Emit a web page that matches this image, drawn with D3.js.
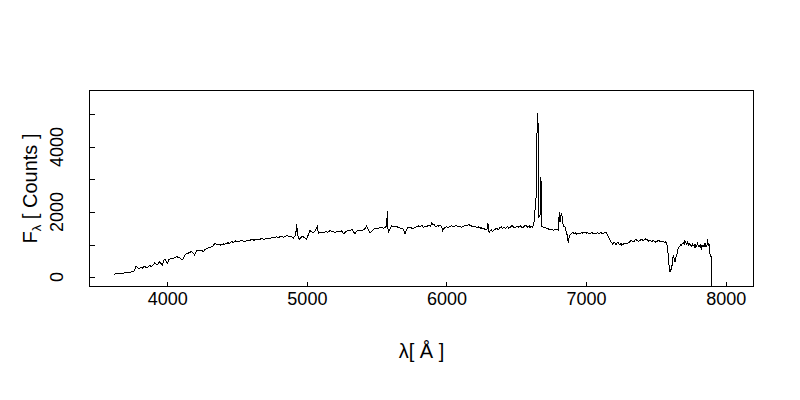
<!DOCTYPE html>
<html><head><meta charset="utf-8">
<script src="https://cdn.jsdelivr.net/npm/d3@7"></script>
<style>body{margin:0;background:#fff}svg{display:block}</style>
</head><body><svg id="c" width="800" height="400"></svg>
<script>
// ---- data (wavelength in Å, flux in counts) ----
const wavelength = [
3620,3635,3650,3665,3680,3695,3710,3725,3740,3752,
3765,3776,3785,3795,3805,3815,3825,3835,3845,3860,
3875,3885,3900,3910,3920,3930,3945,3955,3965,3975,
3985,3995,4002,4010,4025,4040,4055,4070,4085,4095,
4105,4115,4130,4145,4160,4175,4185,4195,4205,4215,
4230,4245,4258,4270,4285,4300,4315,4330,4340,4355,
4370,4385,4400,4410,4420,4428,4435,4443,4450,4458,
4465,4473,4480,4490,4500,4510,4520,4530,4540,4550,
4560,4570,4580,4590,4600,4610,4620,4630,4640,4650,
4660,4670,4680,4690,4700,4710,4720,4730,4740,4750,
4760,4772,4784,4792,4800,4810,4820,4830,4840,4850,
4860,4870,4879,4890,4903,4920,4927,4934,4946,4960,
4974,4986,4998,5010,5022,5034,5046,5060,5075,5082,
5095,5117,5135,5150,5165,5185,5201,5220,5237,5250,
5261,5280,5297,5310,5321,5334,5345,5355,5368,5385,
5404,5416,5428,5440,5452,5470,5488,5505,5520,5536,
5552,5567,5572,5576,5580,5586,5597,5607,5625,5643,
5660,5675,5690,5703,5714,5726,5745,5762,5780,5798,
5815,5825,5835,5845,5858,5866,5875,5885,5894,5905,
5912,5918,5926,5935,5944,5953,5960,5965,5973,5979,
5985,5993,6001,6010,6020,6028,6037,6046,6055,6064,
6073,6082,6090,6100,6109,6117,6125,6133,6140,6148,
6156,6165,6175,6184,6192,6200,6210,6218,6225,6232,
6240,6249,6258,6267,6276,6283,6290,6297,6300,6306,
6313,6320,6328,6335,6341,6347,6356,6365,6374,6383,
6392,6400,6408,6415,6423,6431,6438,6445,6453,6460,
6469,6478,6486,6495,6503,6510,6518,6526,6533,6540,
6548,6555,6565,6574,6580,6586,6592,6598,6604,6610,
6616,6622,6628,6634,6641,6646,6650,6653,6655,6657,
6662,6670,6675,6679,6684,6700,6718,6735,6750,6765,
6785,6801,6808,6813,6818,6825,6832,6840,6849,6861,
6867,6872,6878,6885,6895,6902,6908,6914,6920,6926,
6932,6941,6950,6959,6968,6976,6985,6994,7004,7012,
7020,7027,7035,7043,7051,7058,7065,7072,7080,7090,
7099,7107,7115,7125,7135,7141,7147,7160,7171,7177,
7183,7189,7195,7201,7207,7213,7220,7225,7231,7237,
7243,7249,7255,7262,7270,7280,7291,7300,7310,7318,
7326,7335,7345,7353,7362,7372,7385,7397,7410,7416,
7422,7428,7434,7442,7450,7460,7470,7480,7490,7498,
7506,7515,7525,7533,7541,7550,7560,7568,7577,7583,
7589,7595,7601,7607,7613,7619,7625,7631,7637,7643,
7649,7660,7666,7672,7678,7684,7690,7696,7702,7708,
7714,7720,7726,7732,7738,7744,7750,7756,7762,7768,
7774,7780,7786,7792,7798,7804,7810,7816,7822,7828,
7834,7840,7846,7852,7857,7862,7867,7871,7874,7877,
7880,7883,7888,7893,7898,7899,8020
];
const flux = [
85,100,95,115,110,125,130,140,150,180,
185,330,300,250,285,300,265,330,305,300,
350,320,380,440,400,390,470,420,370,520,
545,450,410,540,560,555,600,625,590,575,
525,560,700,720,760,780,740,680,760,830,
810,820,780,850,880,900,930,960,1040,990,
1000,980,1020,1000,1050,1035,1060,1030,1050,1075,
1090,1060,1080,1110,1100,1085,1110,1130,1120,1095,
1100,1135,1140,1120,1150,1165,1130,1150,1160,1140,
1150,1175,1180,1160,1170,1195,1200,1175,1190,1215,
1220,1205,1240,1210,1220,1245,1250,1225,1240,1260,
1270,1250,1262,1240,1190,1300,1620,1290,1160,1230,
1240,1200,1160,1300,1425,1390,1365,1420,1550,1345,
1380,1365,1400,1380,1425,1400,1365,1410,1395,1420,
1325,1400,1445,1430,1470,1400,1315,1400,1445,1420,
1445,1490,1580,1450,1365,1430,1500,1480,1520,1530,
1500,1550,1560,2030,1500,1395,1500,1570,1540,1550,
1520,1500,1470,1325,1450,1530,1510,1500,1540,1570,
1560,1580,1530,1555,1550,1575,1600,1560,1670,1600,
1620,1570,1545,1590,1565,1600,1580,1560,1425,1480,
1500,1530,1550,1525,1540,1565,1570,1545,1550,1585,
1580,1555,1560,1540,1530,1555,1560,1600,1590,1570,
1620,1600,1580,1560,1550,1565,1540,1510,1520,1545,
1500,1520,1480,1500,1445,1475,1470,1650,1430,1365,
1420,1450,1400,1420,1460,1445,1500,1480,1450,1520,
1540,1490,1530,1520,1490,1530,1560,1500,1525,1540,
1580,1550,1510,1520,1555,1560,1530,1550,1575,1530,
1500,1560,1590,1570,1530,1540,1575,1500,1545,1560,
1530,1600,1700,2060,2370,3500,5055,4700,4770,4625,
1855,1900,3085,2830,1550,1520,1500,1470,1460,1445,
1450,1445,2010,1700,1855,1980,1650,1560,1550,1345,
1250,1035,1200,1290,1330,1380,1365,1340,1340,1370,
1315,1350,1350,1330,1375,1350,1360,1385,1345,1360,
1320,1340,1350,1370,1325,1355,1340,1320,1360,1345,
1345,1370,1330,1350,1365,1380,1345,1250,1140,1090,
1060,1000,1035,1080,1055,1000,1020,1070,1055,1010,
985,1040,985,1000,1020,1040,1015,1050,1060,1120,
1115,1080,1090,1150,1140,1100,1120,1160,1115,1150,
1140,1180,1160,1120,1100,1130,1085,1120,1100,1070,
1085,1120,1110,1080,1085,1100,1070,1090,1035,900,
625,300,165,220,265,500,675,560,470,600,
675,885,920,950,1000,985,1030,1050,1000,1115,
1060,1020,1080,985,1040,1000,960,935,1010,960,
990,885,1000,950,1030,935,980,910,1000,885,
960,940,1010,915,1020,960,1000,1160,1000,950,
1040,830,700,625,625,-3000,-3000
];
const xTicks = [4000, 5000, 6000, 7000, 8000];
const yTicks = [0, 1000, 2000, 3000, 4000, 5000];
const yTickLabels = [0, 2000, 4000];
const xDomain = [3443, 8199];
const yDomain = [-292, 5738];

// ---- drawing ----
const svg = d3.select("#c");
const L = 89.5, R = 753.5, T = 90.5, B = 286.5;
const x = d3.scaleLinear().domain(xDomain).range([L, R]);
const y = d3.scaleLinear().domain(yDomain).range([B, T]);
const font = "'Liberation Sans', Arial, Helvetica, sans-serif";

svg.append("defs").append("clipPath").attr("id","clip")
  .append("rect").attr("x",L).attr("y",T).attr("width",R-L).attr("height",B-T);

const pts = wavelength.map((w,i)=>[w, flux[i]]);
svg.append("path")
  .attr("clip-path","url(#clip)")
  .attr("d", d3.line().x(d=>x(d[0])).y(d=>y(d[1]))(pts))
  .attr("fill","none").attr("stroke","#000").attr("stroke-width",1)
  .attr("shape-rendering","crispEdges");

// box
svg.append("rect").attr("x",L).attr("y",T).attr("width",R-L).attr("height",B-T)
  .attr("fill","none").attr("stroke","#000").attr("stroke-width",1)
  .attr("shape-rendering","crispEdges");

// x axis (inward ticks)
const gx = svg.append("g").attr("transform",`translate(0,${B})`)
  .call(d3.axisBottom(x).tickValues(xTicks).tickSize(-5).tickPadding(6).tickFormat(d3.format("d")));
gx.select(".domain").remove();
gx.selectAll("line").attr("stroke","#000").attr("shape-rendering","crispEdges");
gx.selectAll("text").attr("font-family",font).attr("font-size",18).attr("fill","#000");

// y axis (inward ticks)
const gy = svg.append("g").attr("transform",`translate(${L},0)`)
  .call(d3.axisLeft(y).tickValues(yTicks).tickSize(-5).tickFormat(""));
gy.select(".domain").remove();
gy.selectAll("line").attr("stroke","#000").attr("shape-rendering","crispEdges");

svg.append("g").selectAll("text").data(yTickLabels).join("text")
  .attr("transform", d=>`translate(63,${y(d)}) rotate(-90)`)
  .attr("text-anchor","middle")
  .attr("font-family",font).attr("font-size",18).attr("fill","#000")
  .text(d=>String(d));

// x title
const xt = svg.append("text").attr("x",(L+R)/2).attr("y",358)
  .attr("text-anchor","middle").attr("font-family",font).attr("font-size",20).attr("fill","#000");
xt.append("tspan").text("λ[ Å ]");

// y title
const yt = svg.append("text").attr("transform",`translate(37,${(T+B)/2}) rotate(-90)`)
  .attr("text-anchor","middle").attr("font-family",font).attr("font-size",20).attr("fill","#000");
yt.append("tspan").text("F");
yt.append("tspan").attr("font-size",13).attr("dy",4).text("λ");
yt.append("tspan").attr("dy",-4).text(" [ Counts ]");
</script></body></html>
